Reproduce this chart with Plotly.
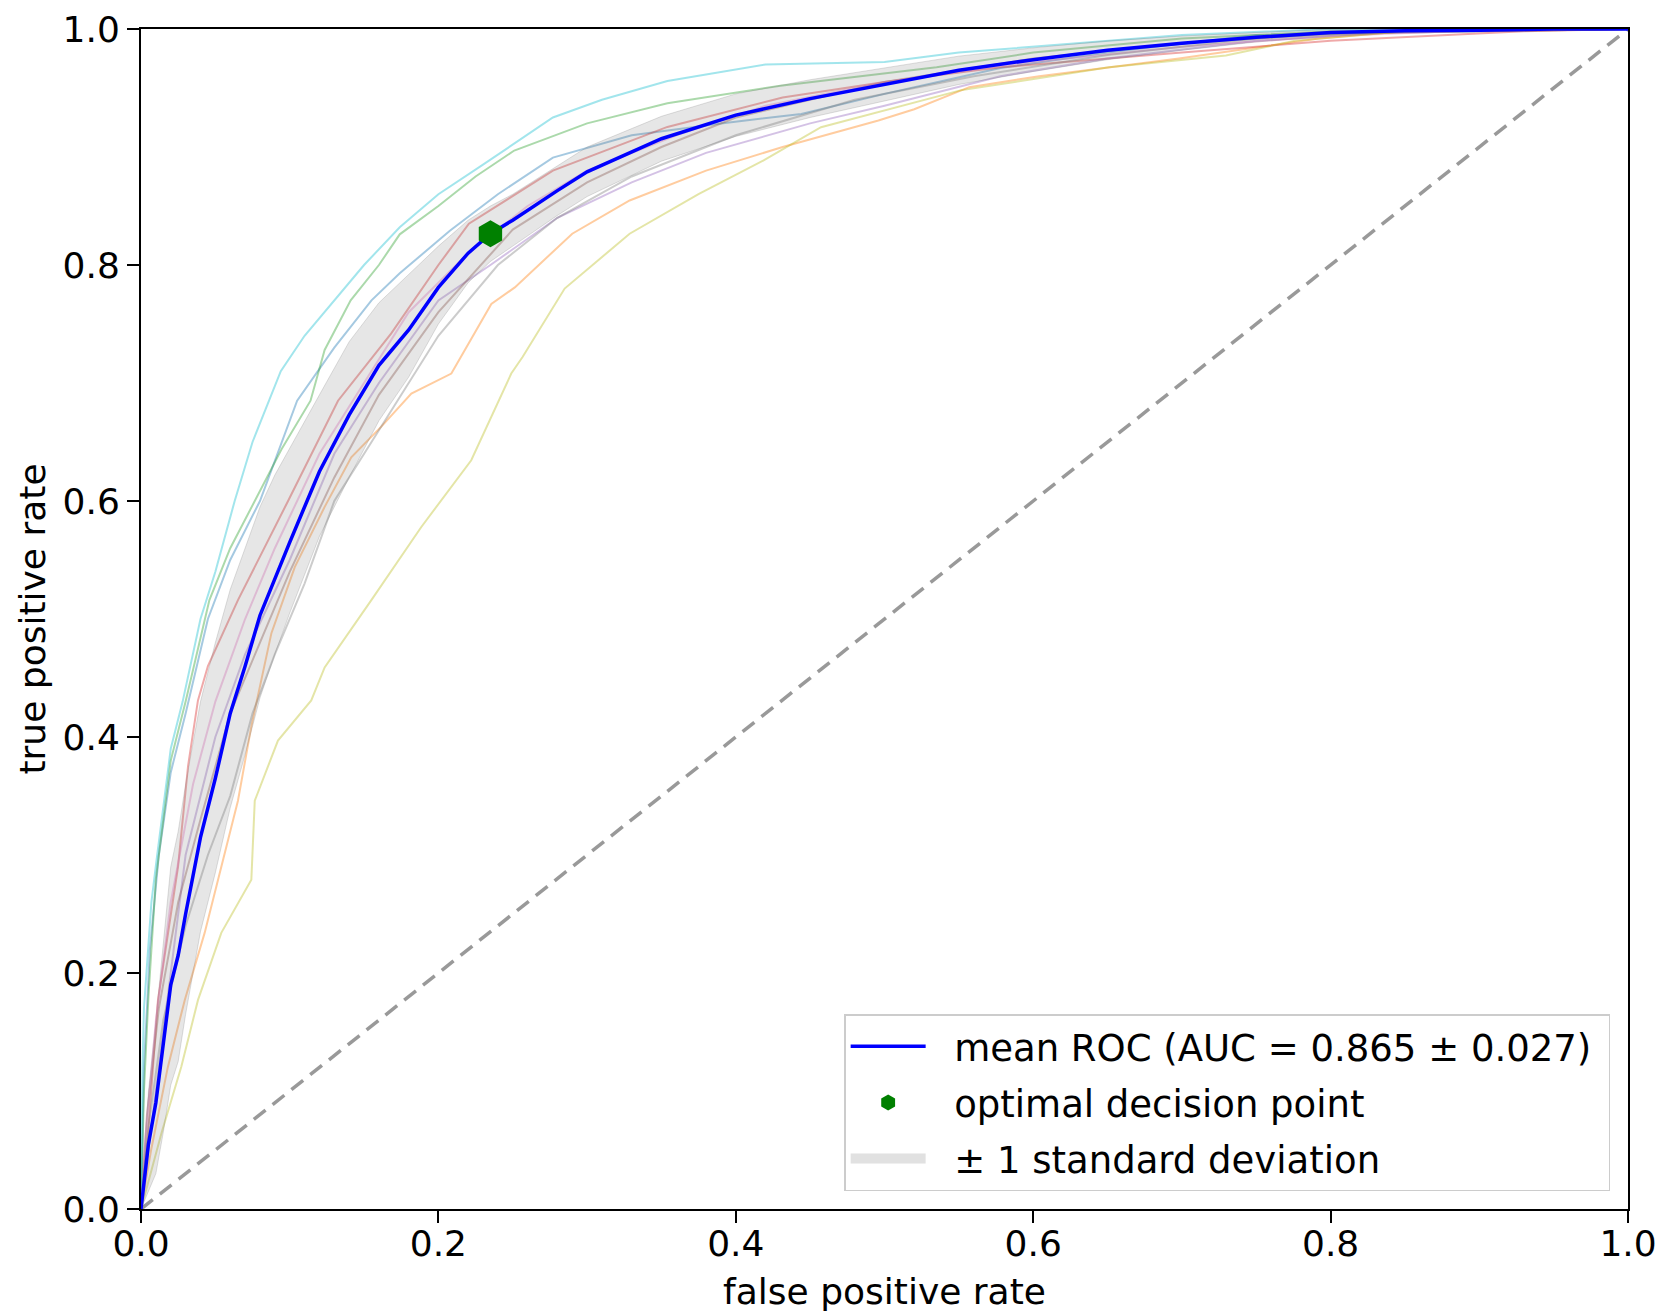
import plotly.graph_objects as go

# mittlere ROC-Kurve und Standardabweichungsband
mean_fpr = [0, 0.005, 0.01, 0.015, 0.02, 0.025, 0.03, 0.04, 0.05, 0.06, 0.07, 0.08, 0.09, 0.1,
            0.12, 0.14, 0.16, 0.18, 0.2, 0.22, 0.235, 0.25, 0.28, 0.3, 0.35, 0.4, 0.45, 0.5,
            0.55, 0.6, 0.65, 0.7, 0.75, 0.8, 0.85, 0.9, 0.95, 1.0]
mean_tpr = [0, 0.055, 0.09, 0.14, 0.19, 0.215, 0.25, 0.315, 0.365, 0.42, 0.46, 0.503, 0.535, 0.565,
            0.625, 0.673, 0.715, 0.745, 0.781, 0.81, 0.8265, 0.838, 0.863, 0.879, 0.907, 0.927, 0.941, 0.953,
            0.965, 0.974, 0.982, 0.988, 0.993, 0.997, 0.9985, 0.999, 1.0, 1.0]
tpr_upper = [0, 0.1, 0.16, 0.225, 0.29, 0.32, 0.36, 0.43, 0.48, 0.525, 0.56, 0.595, 0.622, 0.645,
             0.69, 0.735, 0.768, 0.792, 0.816, 0.838, 0.85, 0.86, 0.884, 0.9, 0.926, 0.945, 0.957, 0.967,
             0.977, 0.984, 0.99, 0.994, 0.997, 1.0, 1.0, 1.0, 1.0, 1.0]
tpr_lower = [0, 0.015, 0.03, 0.065, 0.105, 0.125, 0.165, 0.235, 0.285, 0.34, 0.385, 0.433, 0.47, 0.505,
             0.57, 0.62, 0.668, 0.705, 0.75, 0.785, 0.803, 0.816, 0.842, 0.858, 0.888, 0.909, 0.925, 0.939,
             0.953, 0.964, 0.974, 0.982, 0.989, 0.994, 0.997, 0.998, 1.0, 1.0]

# optimaler Entscheidungspunkt
opt_fpr = [0.235]
opt_tpr = [0.8265]

# einzelne Folds (tab10-Farben)
fold0_fpr = [0, 0.002, 0.006, 0.012, 0.02, 0.03, 0.045, 0.06, 0.08, 0.105, 0.13, 0.155, 0.174, 0.2077,
             0.24, 0.277, 0.33, 0.39, 0.444, 0.5, 0.578, 0.65, 0.75, 1]
fold0_tpr = [0, 0.12, 0.22, 0.3, 0.37, 0.42, 0.5, 0.55, 0.6, 0.685, 0.73, 0.77, 0.793, 0.829,
             0.86, 0.891, 0.91, 0.92, 0.928, 0.945, 0.967, 0.98, 0.995, 1]
fold1_fpr = [0, 0.0068, 0.018, 0.0294, 0.0428, 0.054, 0.0652, 0.0742, 0.0877, 0.1034, 0.1235, 0.1414,
             0.1616, 0.1818, 0.2087, 0.2356, 0.2514, 0.29, 0.3286, 0.38, 0.4315, 0.4959, 0.52, 0.557,
             0.604, 0.698, 0.792, 0.85, 1]
fold1_tpr = [0, 0.05, 0.12, 0.177, 0.234, 0.29, 0.346, 0.409, 0.488, 0.544, 0.595, 0.637,
             0.663, 0.691, 0.708, 0.767, 0.781, 0.8265, 0.8547, 0.88, 0.9, 0.9225, 0.932, 0.9507,
             0.96, 0.975, 0.992, 0.998, 1]
fold2_fpr = [0, 0.002, 0.005, 0.01, 0.02, 0.03, 0.046, 0.06, 0.0765, 0.095, 0.114, 0.1235, 0.141, 0.16,
             0.174, 0.2, 0.225, 0.251, 0.3, 0.354, 0.43, 0.5, 0.535, 0.6, 0.7, 0.8, 1]
fold2_tpr = [0, 0.1, 0.18, 0.28, 0.38, 0.43, 0.516, 0.56, 0.6, 0.645, 0.685, 0.728, 0.77, 0.8,
             0.826, 0.85, 0.875, 0.897, 0.92, 0.937, 0.952, 0.962, 0.9675, 0.98, 0.992, 0.998, 1]
fold3_fpr = [0, 0.0047, 0.0114, 0.0249, 0.0316, 0.0383, 0.045, 0.0652, 0.0989, 0.1325, 0.1683, 0.2,
             0.2205, 0.277, 0.354, 0.4315, 0.5, 0.578, 0.7, 0.8, 0.93, 1]
fold3_tpr = [0, 0.064, 0.177, 0.29, 0.375, 0.431, 0.46, 0.516, 0.6, 0.685, 0.742, 0.8,
             0.835, 0.88, 0.917, 0.942, 0.955, 0.9675, 0.98, 0.99, 0.998, 1]
fold4_fpr = [0, 0.005, 0.015, 0.03, 0.05, 0.07, 0.1, 0.13, 0.16, 0.2, 0.235, 0.28, 0.33, 0.38, 0.45,
             0.5, 0.578, 0.65, 0.75, 0.85, 1]
fold4_tpr = [0, 0.05, 0.15, 0.3, 0.4, 0.47, 0.55, 0.64, 0.7, 0.77, 0.8, 0.84, 0.87, 0.895, 0.92,
             0.935, 0.96, 0.975, 0.99, 0.998, 1]
fold5_fpr = [0, 0.004, 0.012, 0.025, 0.04, 0.06, 0.08, 0.1, 0.13, 0.16, 0.2, 0.25, 0.3, 0.35, 0.4,
             0.5, 0.6, 0.7, 0.8, 1]
fold5_tpr = [0, 0.08, 0.17, 0.26, 0.33, 0.42, 0.48, 0.54, 0.62, 0.69, 0.76, 0.83, 0.87, 0.9, 0.925,
             0.955, 0.975, 0.988, 0.996, 1]
fold6_fpr = [0, 0.003, 0.01, 0.02, 0.035, 0.05, 0.07, 0.09, 0.12, 0.15, 0.18, 0.22, 0.26, 0.3, 0.36,
             0.42, 0.5, 0.6, 0.7, 0.8, 0.9, 1]
fold6_tpr = [0, 0.06, 0.16, 0.26, 0.36, 0.43, 0.5, 0.56, 0.64, 0.7, 0.76, 0.81, 0.85, 0.88, 0.91,
             0.935, 0.955, 0.972, 0.985, 0.994, 0.999, 1]
fold7_fpr = [0, 0.005, 0.015, 0.03, 0.045, 0.06, 0.075, 0.09, 0.11, 0.13, 0.16, 0.2, 0.24, 0.28, 0.33,
             0.4, 0.48, 0.56, 0.65, 0.75, 0.85, 1]
fold7_tpr = [0, 0.07, 0.16, 0.24, 0.3, 0.35, 0.42, 0.47, 0.53, 0.6, 0.66, 0.74, 0.8, 0.84, 0.875,
             0.91, 0.94, 0.96, 0.978, 0.992, 0.999, 1]
fold8_fpr = [0, 0.003, 0.0137, 0.0271, 0.0383, 0.054, 0.0742, 0.0765, 0.0921, 0.1145, 0.1235, 0.1549,
             0.1885, 0.2221, 0.249, 0.2566, 0.2849, 0.3286, 0.3749, 0.4187, 0.4573, 0.551, 0.651,
             0.7296, 0.776, 0.85, 1]
fold8_tpr = [0, 0.014, 0.064, 0.1205, 0.177, 0.234, 0.279, 0.346, 0.397, 0.431, 0.459, 0.516,
             0.578, 0.6345, 0.708, 0.722, 0.78, 0.8265, 0.86, 0.8886, 0.9168, 0.948, 0.9676,
             0.9776, 0.99, 0.998, 1]
fold9_fpr = [0, 0.001, 0.002, 0.007, 0.0105, 0.02, 0.028, 0.04, 0.05, 0.063, 0.075, 0.094, 0.11, 0.13,
             0.15, 0.174, 0.2, 0.23, 0.277, 0.31, 0.354, 0.42, 0.5, 0.55, 0.6, 0.7, 0.8, 1]
fold9_tpr = [0, 0.12, 0.17, 0.26, 0.296, 0.39, 0.43, 0.5, 0.54, 0.6, 0.65, 0.71, 0.74, 0.77,
             0.8, 0.832, 0.86, 0.885, 0.925, 0.94, 0.956, 0.97, 0.972, 0.98, 0.985, 0.995, 1, 1]

folds = [(fold0_fpr, fold0_tpr, 'rgba(31,119,180,0.4)'),
         (fold1_fpr, fold1_tpr, 'rgba(255,127,14,0.4)'),
         (fold2_fpr, fold2_tpr, 'rgba(44,160,44,0.4)'),
         (fold3_fpr, fold3_tpr, 'rgba(214,39,40,0.4)'),
         (fold4_fpr, fold4_tpr, 'rgba(148,103,189,0.4)'),
         (fold5_fpr, fold5_tpr, 'rgba(140,86,75,0.4)'),
         (fold6_fpr, fold6_tpr, 'rgba(227,119,194,0.4)'),
         (fold7_fpr, fold7_tpr, 'rgba(127,127,127,0.4)'),
         (fold8_fpr, fold8_tpr, 'rgba(188,189,34,0.4)'),
         (fold9_fpr, fold9_tpr, 'rgba(23,190,207,0.4)')]

fig = go.Figure()

for fx, fy, col in folds:
    fig.add_trace(go.Scatter(x=fx, y=fy, mode='lines', line=dict(color=col, width=2),
                             showlegend=False, hoverinfo='skip'))

# Band
fig.add_trace(go.Scatter(x=mean_fpr, y=tpr_lower, mode='lines',
                         line=dict(color='rgba(128,128,128,0.25)', width=1),
                         showlegend=False, hoverinfo='skip'))
fig.add_trace(go.Scatter(x=mean_fpr, y=tpr_upper, mode='lines', fill='tonexty',
                         fillcolor='rgba(128,128,128,0.2)',
                         line=dict(color='rgba(128,128,128,0.25)', width=1),
                         showlegend=False, hoverinfo='skip'))

# Diagonale
fig.add_trace(go.Scatter(x=[0, 1], y=[0, 1], mode='lines',
                         line=dict(color='rgba(128,128,128,0.8)', width=3.5, dash='15px,9px'),
                         showlegend=False, hoverinfo='skip'))

fig.add_trace(go.Scatter(x=mean_fpr, y=mean_tpr, mode='lines',
                         line=dict(color='#0000ff', width=3.5),
                         name='\u00a0\u00a0mean ROC (AUC = 0.865 ± 0.027)\u00a0',
                         legendrank=1, legendgroup='a'))

fig.add_trace(go.Scatter(x=opt_fpr, y=opt_tpr, mode='markers',
                         marker=dict(symbol='hexagon', size=27, color='green', line=dict(width=0)),
                         name='\u00a0\u00a0optimal decision point', legendrank=2, legendgroup='b'))

# Legendeneintrag für das Band
fig.add_trace(go.Scatter(x=[None], y=[None], mode='lines',
                         line=dict(color='rgba(205,205,205,0.6)', width=24),
                         name='\u00a0\u00a0± 1 standard deviation', legendrank=3, legendgroup='c'))

axis_style = dict(range=[0, 1], showgrid=False, zeroline=False, showline=True, mirror=True,
                  linecolor='black', linewidth=2, ticks='outside', ticklen=12, tickwidth=2,
                  tickcolor='black', tickformat='.1f', dtick=0.2, tick0=0, automargin=False,
                  tickfont=dict(size=36, color='black'))

fig.update_layout(
    width=1655, height=1307, autosize=False,
    margin=dict(l=133, r=35, t=21, b=106),
    plot_bgcolor='white', paper_bgcolor='white',
    font=dict(family='DejaVu Sans', size=36, color='black'),
    xaxis=dict(title=dict(text='false positive rate', font=dict(size=36), standoff=16),
               ticklabelstandoff=-10, **axis_style),
    yaxis=dict(title=dict(text='true positive rate', font=dict(size=36), standoff=6), **axis_style),
    legend=dict(x=0.988, y=0.015, xanchor='right', yanchor='bottom', traceorder='grouped',
                bgcolor='rgba(255,255,255,0.8)', bordercolor='#cccccc', borderwidth=1.5,
                font=dict(size=37), itemwidth=75, tracegroupgap=5),
)

fig.write_html("out.html")
